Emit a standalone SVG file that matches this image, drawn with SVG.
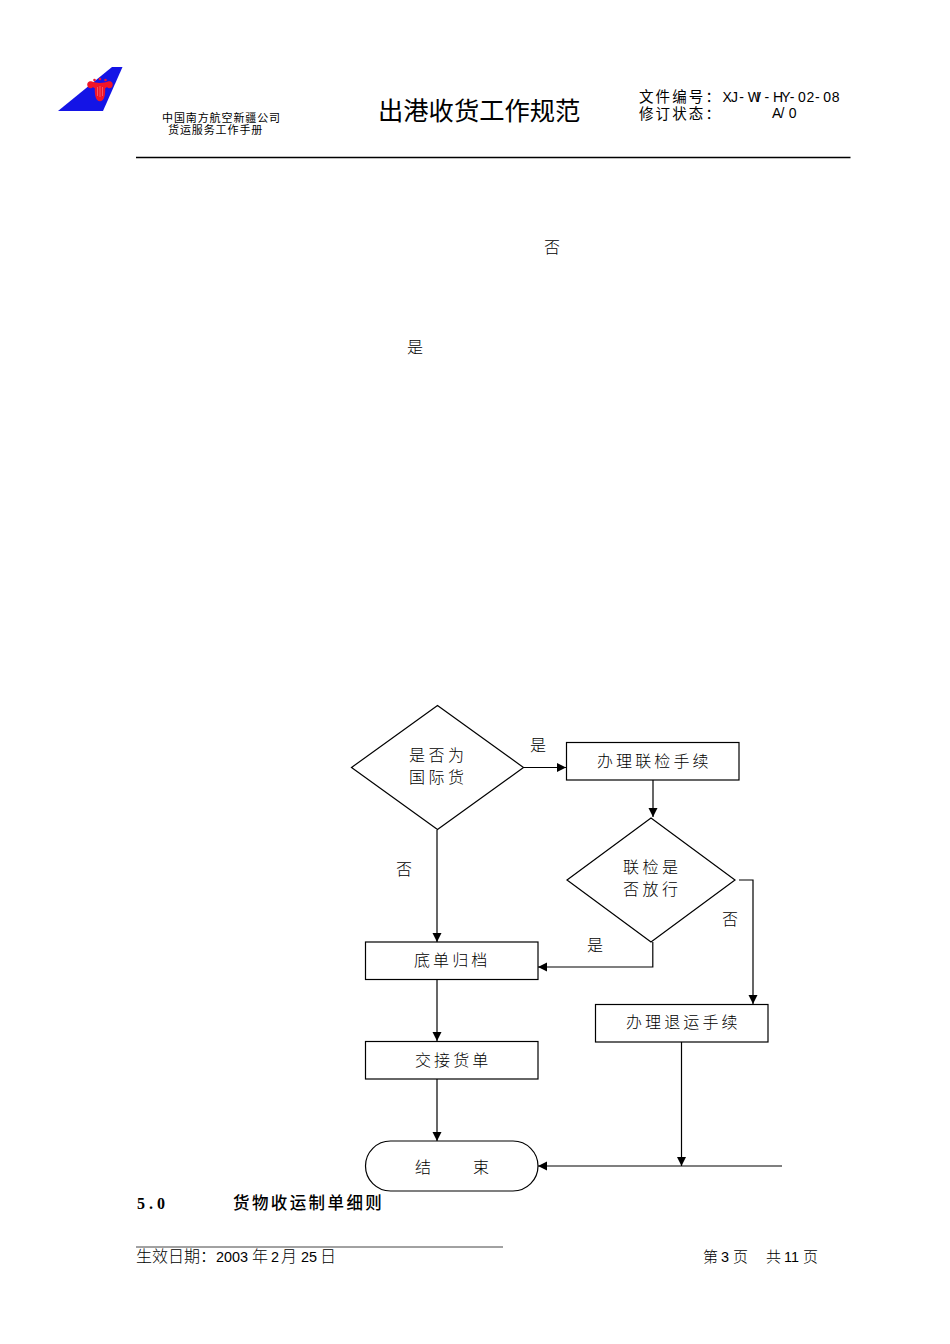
<svg xmlns="http://www.w3.org/2000/svg" width="950" height="1344" viewBox="0 0 950 1344">
<style>
text{font-family:"Noto Sans CJK SC","Liberation Sans",sans-serif;fill:#000}
.f{font-size:16px;font-weight:300}
.s{letter-spacing:3.1px}
.t{letter-spacing:3.5px}
.n{fill:#fff;stroke:#000;stroke-width:1.2}
.c{fill:none;stroke:#000;stroke-width:1.2}
.m{font-family:"Liberation Sans","Noto Sans CJK SC",sans-serif;font-size:14px}
.a{font-family:"Liberation Sans","Noto Sans CJK SC",sans-serif;font-size:14.4px}
.h{font-size:14.5px;letter-spacing:2.1px}
.u{font-size:11px;letter-spacing:0.9px}
</style>
<defs>
<marker id="arrow" markerUnits="userSpaceOnUse" markerWidth="10" markerHeight="10" refX="9" refY="5" orient="auto"><path d="M0 0.500L9 5L0 9.500Z" fill="#000"/></marker>
</defs>
<g id="logo">
<polygon points="112,67 122.500,67 103,111 58,111" fill="#1414e6"/>
<path d="M100 83c-3 0-6-1-8-1.500c-3-.8-5.500 1.500-4.500 4.500c.8 2.500 4 3 5.500 1c.6.6 1 1 1.800 1.200c-.2 6 .7 13 5.200 13c4.500 0 5.400-7 5.200-13c.8-.2 1.200-.6 1.800-1.200c1.500 2 4.700 1.500 5.500-1c1-3-1.500-5.300-4.500-4.500c-2 .5-5 1.500-8 1.500z" fill="#f01428"/>
<path d="M97.500 87v9M100 86v11M102.500 87v9" stroke="#ff9aa2" stroke-width="0.500" fill="none"/>
<circle cx="94.500" cy="80" r="1.300" fill="#f01428"/>
<circle cx="100" cy="79" r="1.300" fill="#f01428"/>
<circle cx="105.500" cy="80" r="1.300" fill="#f01428"/>
</g>
<g id="header">
<text x="162" y="121.500" class="u">中国南方航空新疆公司</text>
<text x="168" y="133.500" class="u">货运服务工作手册</text>
<text x="378" y="120" font-size="25.300">出港收货工作规范</text>
<text x="639" y="101.500" class="h">文件编号：</text>
<text x="722.500 730.900 739.300 747.700 756.100 764.500 772.900 781.300 789.700 798.100 806.500 814.900 823.300 831.700" y="102" class="m">XJ-WI-HY-02-08</text>
<text x="639" y="118.500" class="h">修订状态：</text>
<text x="772 780.400 788.800" y="118" class="m">A/0</text>
<line x1="136" y1="157.500" x2="850.500" y2="157.500" stroke="#000" stroke-width="1.300"/>
</g>
<g id="labels">
<text x="544" y="252.500" class="f">否</text>
<text x="407" y="353" class="f">是</text>
<text x="530" y="751" class="f">是</text>
<text x="396" y="875" class="f">否</text>
<text x="722" y="925" class="f">否</text>
<text x="587" y="950.500" class="f">是</text>
</g>
<g id="connectors">
<path class="c" d="M523 767.500H566" marker-end="url(#arrow)"/>
<path class="c" d="M653 780V817" marker-end="url(#arrow)"/>
<path class="c" d="M437 830V942" marker-end="url(#arrow)"/>
<path class="c" d="M652.800 942V967H538" marker-end="url(#arrow)"/>
<path class="c" d="M739 880H753V1004" marker-end="url(#arrow)"/>
<path class="c" d="M437 979V1041" marker-end="url(#arrow)"/>
<path class="c" d="M437 1079V1141" marker-end="url(#arrow)"/>
<path class="c" d="M681.500 1042V1166" marker-end="url(#arrow)"/>
<path class="c" d="M782 1166H538" marker-end="url(#arrow)"/>
</g>
<g id="decision-international">
<polygon class="n" points="351.500,767.500 437.500,705.500 523.500,767.500 437.500,829.500"/>
<text x="409" y="761" class="f t">是否为</text>
<text x="409" y="783" class="f t">国际货</text>
</g>
<g id="box-transit">
<rect class="n" x="566.500" y="742.500" width="172.500" height="37.500"/>
<text x="597" y="767" class="f s">办理联检手续</text>
</g>
<g id="decision-release">
<polygon class="n" points="567,880 651,818 735,880 651,942"/>
<text x="623" y="873" class="f t">联检是</text>
<text x="623" y="895" class="f t">否放行</text>
</g>
<g id="box-archive">
<rect class="n" x="365.500" y="942" width="172.500" height="37.500"/>
<text x="414" y="966" class="f s">底单归档</text>
</g>
<g id="box-handover">
<rect class="n" x="365.500" y="1041.500" width="172.500" height="37.500"/>
<text x="415" y="1066" class="f s">交接货单</text>
</g>
<g id="box-return">
<rect class="n" x="595.500" y="1004.500" width="172.500" height="37.500"/>
<text x="626" y="1028" class="f s">办理退运手续</text>
</g>
<g id="end">
<rect class="n" x="365.500" y="1141" width="172.500" height="50" rx="25" ry="25"/>
<text x="415" y="1173" class="f">结</text>
<text x="473" y="1173" class="f">束</text>
</g>
<g id="footer">
<text x="137" y="1209" style="font-family:'Liberation Serif',serif;font-size:16px;font-weight:700;letter-spacing:4px">5.0</text>
<text x="233" y="1209" font-size="16.500" font-weight="500" style="letter-spacing:2.400px">货物收运制单细则</text>
<line x1="136" y1="1247" x2="503" y2="1247" stroke="#444" stroke-width="1"/>
<text x="136" y="1262" font-size="16" font-weight="300">生效日期：</text>
<text x="216" y="1262" class="a">2003</text>
<text x="252" y="1262" font-size="16" font-weight="300">年</text>
<text x="271" y="1262" class="a">2</text>
<text x="281" y="1262" font-size="16" font-weight="300">月</text>
<text x="301" y="1262" class="a">25</text>
<text x="320" y="1262" font-size="16" font-weight="300">日</text>
<text x="703" y="1262" font-size="15" font-weight="300">第</text>
<text x="721" y="1262" class="a">3</text>
<text x="733" y="1262" font-size="15" font-weight="300">页</text>
<text x="766" y="1262" font-size="15" font-weight="300">共</text>
<text x="784" y="1262" class="a">11</text>
<text x="803" y="1262" font-size="15" font-weight="300">页</text>
</g>
</svg>
